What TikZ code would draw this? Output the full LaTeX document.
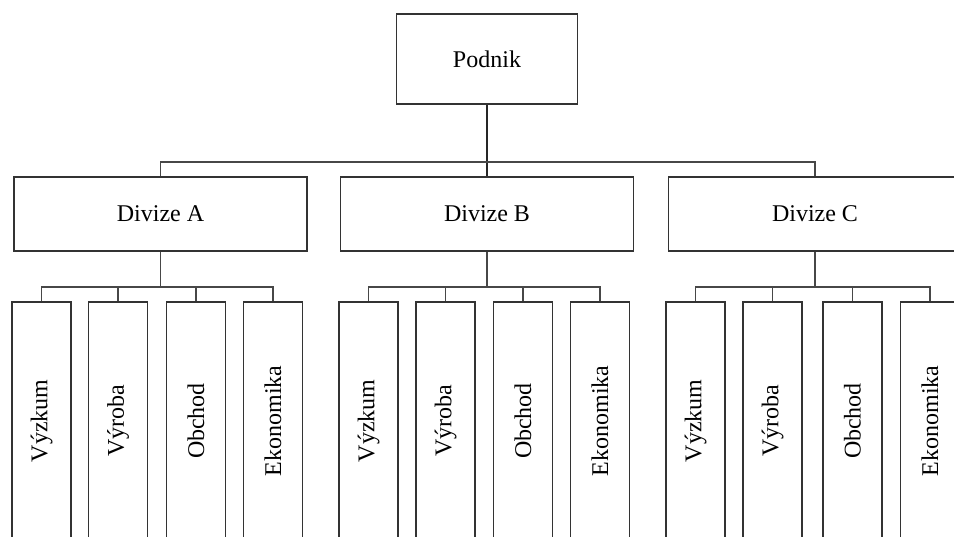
\documentclass[tikz,border=0pt]{standalone}
\usepackage{fontspec}
\setmainfont{Liberation Serif}
\begin{document}
\begin{tikzpicture}[x=1pt,y=-1pt,
  box/.style={draw=black!80, line width=1.6pt, fill=white,
    font=\fontsize{24}{28}\selectfont, inner sep=0pt},
  topbox/.style={box, minimum width=181pt, minimum height=90pt},
  divbox/.style={box, minimum width=293pt, minimum height=74pt},
  unitbox/.style={box, rotate=90, minimum width=238pt, minimum height=59pt},
  link/.style={draw=black!72, line width=1.3pt}]
\clip (0,0) rectangle (954,537);
\fill[white] (0,0) rectangle (954,537);

% levels of the horizontal buses
\coordinate (lvl1) at (0,162);
\coordinate (lvl2) at (0,287);

% company
\node[topbox] (podnik) at (487,59) {Podnik};

% divisions
\node[divbox] (divA) at (160.5,214) {Divize A};
\node[divbox] (divB) at (487,214) {Divize B};
\node[divbox] (divC) at (815,214) {Divize C};

% company -> divisions
\coordinate (bus) at (podnik.south |- lvl1);
\draw[link, draw=black!85] (podnik.south) -- (divB.north);
\draw[link] (divA.north) |- (bus) -| (divC.north);

% departments of each division
\foreach \d/\xa/\xb/\xc/\xd in {A/41.5/118/196/273, B/368.5/445.5/523/600, C/695.5/772.5/852.5/930} {
  \node[unitbox] (\d1) at (\xa,421) {Výzkum};
  \node[unitbox] (\d2) at (\xb,421) {Výroba};
  \node[unitbox] (\d3) at (\xc,421) {Obchod};
  \node[unitbox] (\d4) at (\xd,421) {Ekonomika};
  \coordinate (bus\d) at (div\d.south |- lvl2);
  \draw[link] (div\d.south) -- (bus\d);
  \draw[link] (\d1.east) |- (bus\d) -| (\d4.east);
  \draw[link] (\d2.east) -- (\d2.east |- lvl2);
  \draw[link] (\d3.east) -- (\d3.east |- lvl2);
}
\end{tikzpicture}
\end{document}
